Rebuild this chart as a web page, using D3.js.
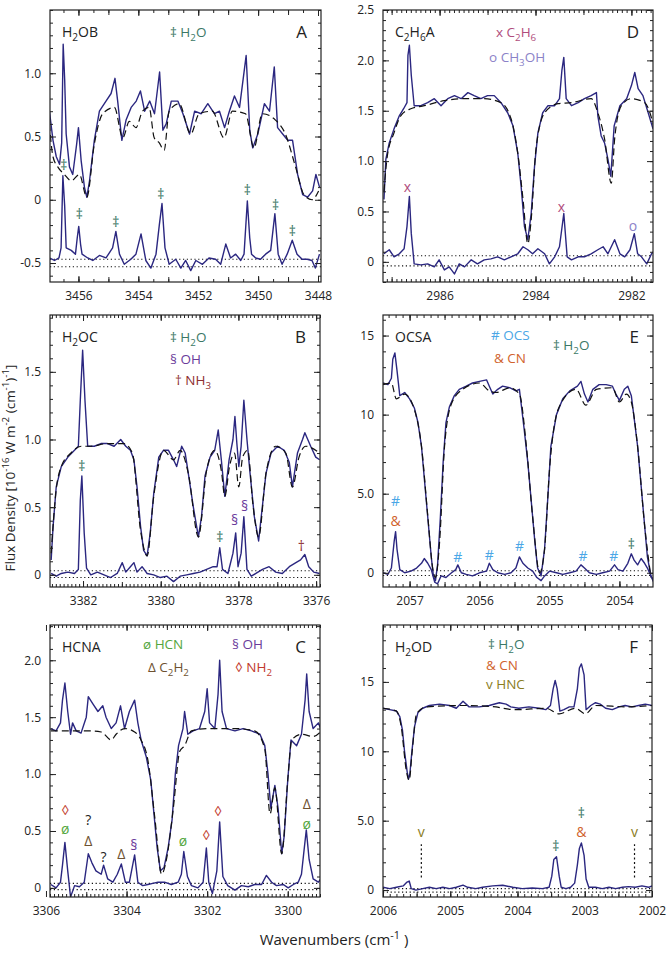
<!DOCTYPE html>
<html>
<head>
<meta charset="utf-8">
<script src="https://cdn.jsdelivr.net/npm/d3@7"></script>
<style>
  body { margin: 0; background: #fff; }
  svg { display: block; font-family: "Open Sans", "Noto Sans", sans-serif; }
  text { white-space: pre; }
</style>
</head>
<body>
<svg id="chart" width="666" height="956"></svg>
<script>
// ---------- panel A : H2OB ----------
const aName = "H_{2}OB";
const aLegend = [["‡ H_{2}O", "h2o"]];
const aYTicks = [-0.5, 0, 0.5, 1.0];
const aYLabels = ["-0.5", "0", "0.5", "1.0"];
const aXTicks = [3456, 3454, 3452, 3450, 3448];
const aObs = [[3456.97,0.70],[3456.85,0.47],[3456.74,0.34],[3456.63,0.28],[3456.56,0.45],[3456.51,1.23],[3456.46,0.95],[3456.41,0.52],[3456.30,0.26],[3456.19,0.20],[3456.06,0.44],[3456.00,0.57],[3455.91,0.31],[3455.80,0.10],[3455.72,0.02],[3455.63,0.15],[3455.47,0.47],[3455.30,0.70],[3455.08,0.78],[3454.91,0.84],[3454.78,0.96],[3454.69,0.78],[3454.55,0.47],[3454.41,0.63],[3454.24,0.73],[3454.07,0.78],[3453.93,0.86],[3453.79,0.70],[3453.62,0.78],[3453.46,0.68],[3453.29,1.01],[3453.18,0.55],[3453.07,0.60],[3452.90,0.78],[3452.68,0.78],[3452.51,0.68],[3452.29,0.52],[3452.12,0.70],[3451.90,0.68],[3451.68,0.76],[3451.46,0.68],[3451.29,0.70],[3451.12,0.57],[3450.96,0.70],[3450.79,0.82],[3450.62,0.73],[3450.40,1.14],[3450.28,0.55],[3450.18,0.41],[3450.01,0.52],[3449.79,0.76],[3449.62,0.70],[3449.46,1.05],[3449.35,0.57],[3449.18,0.52],[3449.01,0.47],[3448.85,0.47],[3448.68,0.20],[3448.51,0.04],[3448.35,0.02],[3448.18,0.07],[3448.07,0.20],[3447.95,0.10]];
const aModel = [[3456.97,0.60],[3456.85,0.34],[3456.69,0.26],[3456.47,0.20],[3456.24,0.15],[3455.97,0.20],[3455.72,0.02],[3455.47,0.44],[3455.19,0.68],[3454.80,0.73],[3454.52,0.49],[3454.30,0.62],[3454.08,0.57],[3453.86,0.70],[3453.64,0.73],[3453.47,0.49],[3453.30,0.45],[3453.14,0.39],[3452.97,0.70],[3452.64,0.76],[3452.25,0.52],[3451.97,0.68],[3451.53,0.70],[3451.14,0.49],[3450.86,0.70],[3450.42,0.68],[3450.14,0.41],[3449.86,0.68],[3449.42,0.63],[3449.09,0.52],[3448.75,0.26],[3448.47,0.04],[3448.20,0.00],[3447.98,0.07]];
const aResid = [[3456.97,-0.46],[3456.80,-0.48],[3456.65,-0.46],[3456.58,-0.38],[3456.52,0.19],[3456.46,-0.05],[3456.41,-0.38],[3456.24,-0.40],[3456.10,-0.43],[3456.04,-0.30],[3455.99,-0.21],[3455.93,-0.35],[3455.88,-0.43],[3455.69,-0.46],[3455.52,-0.48],[3455.30,-0.44],[3455.08,-0.46],[3454.86,-0.38],[3454.75,-0.25],[3454.63,-0.43],[3454.47,-0.51],[3454.25,-0.47],[3454.08,-0.43],[3453.91,-0.27],[3453.75,-0.48],[3453.58,-0.54],[3453.41,-0.43],[3453.30,-0.20],[3453.21,-0.03],[3453.11,-0.38],[3452.97,-0.51],[3452.75,-0.47],[3452.58,-0.54],[3452.42,-0.48],[3452.25,-0.56],[3452.08,-0.48],[3451.86,-0.51],[3451.64,-0.46],[3451.42,-0.47],[3451.25,-0.51],[3451.08,-0.35],[3450.92,-0.46],[3450.75,-0.43],[3450.58,-0.48],[3450.47,-0.43],[3450.36,-0.01],[3450.28,-0.30],[3450.22,-0.43],[3450.08,-0.46],[3449.92,-0.47],[3449.75,-0.43],[3449.58,-0.40],[3449.44,-0.11],[3449.33,-0.43],[3449.20,-0.51],[3449.03,-0.43],[3448.86,-0.32],[3448.70,-0.43],[3448.53,-0.47],[3448.36,-0.47],[3448.20,-0.48],[3448.09,-0.54],[3447.95,-0.43]];
const aNoise = [-0.47, -0.53];
const aMarks = [["‡",3456.49,0.28,"h2o"],["‡",3455.97,-0.11,"h2o"],["‡",3454.75,-0.17,"h2o"],["‡",3453.25,0.05,"h2o"],["‡",3450.36,0.08,"h2o"],["‡",3449.42,-0.04,"h2o"],["‡",3448.86,-0.24,"h2o"]];

// ---------- panel D : C2H6A ----------
const dName = "C_{2}H_{6}A";
const dLegend = [["x C_{2}H_{6}", "c2h6"], ["o CH_{3}OH", "ch3oh"]];
const dYTicks = [0, 0.5, 1.0, 1.5, 2.0, 2.5];
const dYLabels = ["0", "0.5", "1.0", "1.5", "2.0", "2.5"];
const dXTicks = [2986, 2984, 2982];
const dObs = [[2987.16,0.62],[2987.12,1.02],[2987.05,1.18],[2986.95,1.32],[2986.84,1.45],[2986.75,1.52],[2986.68,1.58],[2986.66,2.05],[2986.63,2.15],[2986.59,1.85],[2986.53,1.55],[2986.39,1.55],[2986.25,1.58],[2986.11,1.62],[2985.97,1.55],[2985.83,1.62],[2985.69,1.65],[2985.55,1.62],[2985.41,1.68],[2985.28,1.65],[2985.14,1.62],[2985.00,1.65],[2984.86,1.65],[2984.72,1.58],[2984.58,1.48],[2984.47,1.35],[2984.37,1.08],[2984.30,0.75],[2984.23,0.35],[2984.16,0.22],[2984.09,0.48],[2984.02,0.95],[2983.95,1.28],[2983.85,1.48],[2983.74,1.55],[2983.60,1.55],[2983.50,1.62],[2983.45,1.90],[2983.41,2.03],[2983.36,1.62],[2983.25,1.55],[2983.11,1.58],[2982.98,1.62],[2982.84,1.65],[2982.73,1.68],[2982.70,1.45],[2982.63,1.25],[2982.56,1.18],[2982.49,1.02],[2982.43,0.85],[2982.36,1.35],[2982.24,1.55],[2982.10,1.62],[2982.00,1.75],[2981.93,1.88],[2981.86,1.72],[2981.76,1.65],[2981.65,1.48],[2981.55,1.32]];
const dModel = [[2987.16,0.70],[2987.09,1.05],[2986.95,1.28],[2986.81,1.45],[2986.60,1.52],[2986.32,1.55],[2985.90,1.60],[2985.48,1.62],[2985.07,1.62],[2984.72,1.58],[2984.51,1.42],[2984.37,1.08],[2984.26,0.62],[2984.16,0.18],[2984.09,0.42],[2983.99,1.12],[2983.81,1.48],[2983.53,1.57],[2983.25,1.58],[2982.84,1.62],[2982.70,1.48],[2982.56,1.22],[2982.42,0.78],[2982.35,1.22],[2982.21,1.55],[2982.00,1.62],[2981.72,1.58],[2981.51,1.30]];
const dResid = [[2987.16,0.08],[2987.05,0.12],[2986.95,0.05],[2986.84,0.08],[2986.74,0.13],[2986.68,0.35],[2986.63,0.65],[2986.59,0.28],[2986.53,-0.02],[2986.39,-0.03],[2986.25,-0.02],[2986.11,-0.05],[2986.01,0.02],[2985.90,-0.08],[2985.80,-0.05],[2985.69,-0.12],[2985.59,-0.02],[2985.48,-0.05],[2985.34,0.02],[2985.21,-0.02],[2985.07,0.02],[2984.93,0.03],[2984.79,0.05],[2984.65,0.02],[2984.51,0.05],[2984.37,0.08],[2984.26,0.15],[2984.16,0.12],[2984.06,0.08],[2983.95,0.13],[2983.81,0.08],[2983.71,-0.02],[2983.60,0.05],[2983.50,0.15],[2983.41,0.48],[2983.34,0.05],[2983.25,0.02],[2983.11,0.05],[2982.98,0.05],[2982.84,0.08],[2982.70,0.12],[2982.59,0.15],[2982.49,0.08],[2982.35,0.22],[2982.24,0.08],[2982.14,0.05],[2982.03,0.12],[2981.94,0.28],[2981.87,0.08],[2981.79,0.05],[2981.68,-0.02],[2981.58,0.08],[2981.50,0.12]];
const dNoise = [0.06, -0.04];
const dMarks = [["x",2986.67,0.75,"c2h6"],["x",2983.46,0.55,"c2h6"],["o",2981.97,0.36,"ch3oh"]];

// ---------- panel B : H2OC ----------
const bName = "H_{2}OC";
const bLegend = [["‡ H_{2}O", "h2o"], ["§ OH", "oh"], ["† NH_{3}", "nh3"]];
const bYTicks = [0, 0.5, 1.0, 1.5];
const bYLabels = ["0", "0.5", "1.0", "1.5"];
const bXTicks = [3382, 3380, 3378, 3376];
const bObs = [[3382.82,0.11],[3382.77,0.36],[3382.69,0.65],[3382.56,0.80],[3382.39,0.87],[3382.22,0.92],[3382.12,0.95],[3382.07,1.29],[3382.01,1.66],[3381.95,1.29],[3381.88,0.95],[3381.71,0.95],[3381.54,0.97],[3381.37,0.97],[3381.20,0.95],[3381.03,1.00],[3380.90,0.95],[3380.78,0.92],[3380.69,0.85],[3380.61,0.65],[3380.52,0.36],[3380.44,0.18],[3380.35,0.14],[3380.27,0.31],[3380.18,0.60],[3380.05,0.87],[3379.93,0.92],[3379.80,0.92],[3379.67,0.85],[3379.59,0.80],[3379.46,0.95],[3379.37,0.90],[3379.29,0.75],[3379.16,0.50],[3379.03,0.28],[3378.95,0.43],[3378.86,0.73],[3378.73,0.87],[3378.61,0.92],[3378.52,1.07],[3378.44,0.85],[3378.35,0.58],[3378.24,0.85],[3378.14,1.00],[3378.09,1.17],[3378.04,0.97],[3377.99,0.80],[3377.93,0.95],[3377.86,1.29],[3377.78,1.00],[3377.70,0.75],[3377.59,0.43],[3377.48,0.25],[3377.42,0.41],[3377.29,0.75],[3377.16,0.90],[3376.99,0.95],[3376.82,0.92],[3376.69,0.83],[3376.61,0.65],[3376.48,0.90],[3376.35,1.00],[3376.29,1.05],[3376.14,0.95],[3376.01,0.87],[3375.91,0.85]];
const bModel = [[3382.82,0.16],[3382.69,0.63],[3382.56,0.80],[3382.31,0.90],[3382.05,0.95],[3381.80,0.95],[3381.37,0.97],[3380.95,0.97],[3380.73,0.90],[3380.52,0.33],[3380.35,0.14],[3380.18,0.58],[3379.93,0.92],[3379.67,0.85],[3379.50,0.92],[3379.29,0.75],[3379.03,0.28],[3378.82,0.77],[3378.61,0.92],[3378.44,0.77],[3378.35,0.58],[3378.23,0.80],[3378.10,0.90],[3377.99,0.65],[3377.89,0.87],[3377.76,0.92],[3377.63,0.53],[3377.48,0.28],[3377.29,0.75],[3377.04,0.95],[3376.78,0.90],[3376.61,0.65],[3376.44,0.87],[3376.27,0.95],[3375.91,0.90]];
const bResid = [[3382.82,0.01],[3382.69,-0.01],[3382.56,0.01],[3382.39,0.02],[3382.22,0.01],[3382.12,0.04],[3382.07,0.55],[3382.03,0.73],[3381.97,0.31],[3381.91,0.05],[3381.80,0.00],[3381.63,0.02],[3381.46,0.00],[3381.29,-0.02],[3381.12,0.01],[3380.99,0.09],[3380.90,0.02],[3380.78,0.06],[3380.69,0.09],[3380.61,0.02],[3380.48,0.06],[3380.35,0.01],[3380.18,0.00],[3380.01,-0.02],[3379.84,-0.01],[3379.67,-0.05],[3379.50,-0.01],[3379.33,0.00],[3379.16,0.01],[3378.99,0.02],[3378.82,0.04],[3378.65,0.06],[3378.55,0.06],[3378.48,0.20],[3378.41,0.04],[3378.27,0.01],[3378.14,0.16],[3378.07,0.31],[3378.01,0.06],[3377.93,0.16],[3377.86,0.43],[3377.78,0.04],[3377.67,-0.01],[3377.55,0.01],[3377.38,0.04],[3377.21,0.06],[3377.04,0.02],[3376.87,0.01],[3376.69,0.06],[3376.52,0.09],[3376.40,0.11],[3376.29,0.15],[3376.19,0.06],[3376.06,0.02],[3375.91,0.01]];
const bNoise = [0.03, -0.02];
const bMarks = [["‡",3382.03,0.81,"h2o"],["‡",3378.48,0.28,"h2o"],["§",3378.10,0.41,"oh"],["§",3377.84,0.51,"oh"],["†",3376.38,0.22,"nh3"]];

// ---------- panel E : OCSA ----------
const eName = "OCSA";
const eLegend = [["# OCS", "ocs"], ["& CN", "cn"], ["‡ H_{2}O", "h2o"]];
const eYTicks = [0, 5, 10, 15];
const eYLabels = ["0", "5.0", "10", "15"];
const eXTicks = [2057, 2056, 2055, 2054];
const eObs = [[2057.38,12.0],[2057.31,11.9],[2057.26,12.3],[2057.24,13.5],[2057.21,13.9],[2057.18,12.8],[2057.14,11.2],[2057.07,11.4],[2057.00,11.0],[2056.93,10.4],[2056.88,9.5],[2056.83,8.0],[2056.79,6.0],[2056.74,3.5],[2056.69,1.0],[2056.66,-0.2],[2056.63,-0.5],[2056.60,0.5],[2056.56,3.5],[2056.52,7.0],[2056.48,9.5],[2056.43,10.5],[2056.36,11.2],[2056.29,11.6],[2056.19,11.8],[2056.10,12.0],[2056.00,12.1],[2055.90,12.2],[2055.86,11.8],[2055.81,11.3],[2055.74,11.6],[2055.67,11.8],[2055.57,11.7],[2055.48,11.5],[2055.43,11.6],[2055.40,10.5],[2055.36,9.0],[2055.31,7.0],[2055.26,4.5],[2055.21,2.0],[2055.17,0.3],[2055.12,-0.2],[2055.07,1.5],[2055.02,5.0],[2054.98,8.0],[2054.90,10.0],[2054.81,11.0],[2054.71,11.5],[2054.60,11.8],[2054.55,12.1],[2054.50,11.3],[2054.45,10.8],[2054.38,11.6],[2054.29,11.9],[2054.19,11.9],[2054.10,11.8],[2054.05,11.3],[2054.00,10.9],[2053.93,11.6],[2053.88,11.8],[2053.83,11.2],[2053.79,9.8],[2053.74,8.0],[2053.69,5.5],[2053.64,3.0],[2053.60,1.0],[2053.55,-0.2],[2053.51,-0.5]];
const eModel = [[2057.38,11.9],[2057.26,12.0],[2057.19,11.0],[2057.07,11.3],[2056.93,10.3],[2056.83,8.0],[2056.74,3.6],[2056.67,0.3],[2056.63,-0.3],[2056.57,2.0],[2056.50,8.0],[2056.40,10.7],[2056.24,11.6],[2056.00,12.0],[2055.86,11.5],[2055.76,11.4],[2055.57,11.7],[2055.43,11.3],[2055.33,8.0],[2055.24,3.5],[2055.14,0.0],[2055.07,1.5],[2055.00,6.5],[2054.86,10.5],[2054.62,11.6],[2054.48,10.6],[2054.33,11.6],[2054.10,11.7],[2054.00,10.8],[2053.90,11.3],[2053.83,10.8],[2053.74,8.0],[2053.64,3.0],[2053.55,-0.3]];
const eResid = [[2057.38,0.0],[2057.31,-0.1],[2057.26,0.3],[2057.22,2.0],[2057.20,2.6],[2057.18,1.5],[2057.14,0.2],[2057.07,0.0],[2056.98,0.1],[2056.90,0.3],[2056.83,0.6],[2056.79,0.9],[2056.74,0.6],[2056.69,0.2],[2056.64,-0.6],[2056.60,-0.7],[2056.55,-0.2],[2056.48,-0.3],[2056.40,0.0],[2056.34,0.2],[2056.31,0.5],[2056.26,0.0],[2056.19,-0.1],[2056.10,-0.2],[2056.00,0.0],[2055.90,0.1],[2055.86,0.6],[2055.81,0.2],[2055.74,0.0],[2055.64,-0.1],[2055.55,0.0],[2055.48,0.3],[2055.43,1.0],[2055.38,0.6],[2055.31,0.3],[2055.24,0.1],[2055.18,-0.3],[2055.12,-0.5],[2055.07,-0.2],[2055.00,0.1],[2054.90,0.0],[2054.81,-0.1],[2054.71,0.0],[2054.62,0.1],[2054.55,0.5],[2054.50,0.3],[2054.43,0.0],[2054.33,-0.1],[2054.24,0.0],[2054.14,0.1],[2054.07,0.5],[2054.02,0.2],[2053.95,0.1],[2053.88,0.6],[2053.83,1.2],[2053.79,0.8],[2053.74,0.5],[2053.69,0.9],[2053.64,0.6],[2053.60,0.3],[2053.55,-0.2],[2053.51,-0.6]];
const eNoise = [0.13, -0.17];
const eMarks = [["#",2057.20,4.6,"ocs"],["&",2057.20,3.3,"cn"],["#",2056.31,1.05,"ocs"],["#",2055.86,1.15,"ocs"],["#",2055.43,1.7,"ocs"],["#",2054.52,1.1,"ocs"],["#",2054.08,1.1,"ocs"],["‡",2053.83,1.85,"h2o"]];

// ---------- panel C : HCNA ----------
const cName = "HCNA";
const cLegend = [["ø HCN", "hcn"], ["Δ C_{2}H_{2}", "c2h2"], ["§ OH", "oh"], ["◊ NH_{2}", "nh2"]];
const cYTicks = [0, 0.5, 1.0, 1.5, 2.0];
const cYLabels = ["0", "0.5", "1.0", "1.5", "2.0"];
const cXTicks = [3306, 3304, 3302, 3300];
const cObs = [[3305.88,1.40],[3305.75,1.38],[3305.64,1.45],[3305.59,1.65],[3305.53,1.80],[3305.46,1.55],[3305.39,1.35],[3305.34,1.45],[3305.25,1.38],[3305.13,1.36],[3305.00,1.50],[3304.95,1.68],[3304.84,1.62],[3304.71,1.55],[3304.59,1.60],[3304.51,1.50],[3304.38,1.40],[3304.26,1.45],[3304.15,1.60],[3304.05,1.40],[3303.93,1.55],[3303.80,1.65],[3303.72,1.45],[3303.64,1.30],[3303.51,1.15],[3303.40,0.95],[3303.32,0.65],[3303.24,0.35],[3303.16,0.15],[3303.07,0.18],[3302.97,0.35],[3302.87,0.60],[3302.79,1.00],[3302.71,1.25],[3302.60,1.40],[3302.56,1.55],[3302.48,1.35],[3302.35,1.38],[3302.19,1.40],[3302.06,1.55],[3302.00,1.75],[3301.94,1.45],[3301.81,1.40],[3301.73,1.70],[3301.69,2.00],[3301.63,1.55],[3301.52,1.40],[3301.31,1.38],[3301.11,1.40],[3300.90,1.38],[3300.69,1.35],[3300.57,1.25],[3300.49,1.00],[3300.42,0.70],[3300.32,0.90],[3300.24,0.70],[3300.15,0.30],[3300.09,0.45],[3300.00,0.95],[3299.92,1.30],[3299.78,1.25],[3299.66,1.35],[3299.57,1.65],[3299.53,1.88],[3299.47,1.55],[3299.37,1.40],[3299.24,1.45],[3299.16,1.38]];
const cModel = [[3305.88,1.38],[3305.46,1.38],[3304.96,1.38],[3304.63,1.37],[3304.38,1.30],[3304.26,1.35],[3304.05,1.40],[3303.80,1.37],[3303.64,1.30],[3303.47,1.12],[3303.30,0.62],[3303.13,0.12],[3303.01,0.25],[3302.84,0.70],[3302.68,1.20],[3302.56,1.25],[3302.39,1.38],[3301.98,1.40],[3301.31,1.40],[3300.82,1.38],[3300.57,1.22],[3300.44,0.65],[3300.32,0.88],[3300.15,0.30],[3300.00,0.95],[3299.90,1.30],[3299.66,1.35],[3299.37,1.33],[3299.16,1.38]];
const cResid = [[3305.88,0.03],[3305.75,0.00],[3305.64,0.05],[3305.59,0.20],[3305.53,0.40],[3305.46,0.15],[3305.39,-0.08],[3305.29,0.02],[3305.17,0.01],[3305.05,0.05],[3304.95,0.30],[3304.86,0.22],[3304.76,0.15],[3304.63,0.12],[3304.57,0.20],[3304.47,0.08],[3304.34,0.05],[3304.23,0.12],[3304.13,0.21],[3304.03,0.05],[3303.93,0.05],[3303.80,0.29],[3303.72,0.05],[3303.60,0.02],[3303.47,0.03],[3303.35,0.04],[3303.22,0.05],[3303.06,0.05],[3302.89,0.03],[3302.72,0.05],[3302.64,0.12],[3302.58,0.32],[3302.49,0.10],[3302.39,0.02],[3302.23,0.00],[3302.10,0.05],[3302.02,0.35],[3301.96,0.05],[3301.87,-0.05],[3301.76,0.15],[3301.69,0.58],[3301.61,0.10],[3301.49,0.02],[3301.31,-0.02],[3301.15,0.02],[3300.98,0.01],[3300.82,0.03],[3300.65,0.03],[3300.53,0.11],[3300.40,0.05],[3300.28,0.02],[3300.11,0.03],[3299.99,0.00],[3299.86,0.03],[3299.74,0.05],[3299.66,0.12],[3299.59,0.35],[3299.54,0.51],[3299.47,0.25],[3299.37,0.08],[3299.24,0.05],[3299.14,0.10]];
const cNoise = [0.04, -0.015];
const cMarks = [["◊",3305.52,0.69,"nh2"],["ø",3305.52,0.52,"hcn"],["?",3304.95,0.60,"unk"],["Δ",3304.95,0.42,"c2h2"],["?",3304.57,0.28,"unk"],["Δ",3304.13,0.30,"c2h2"],["§",3303.82,0.38,"oh"],["ø",3302.60,0.42,"hcn"],["◊",3302.02,0.47,"nh2"],["◊",3301.73,0.68,"nh2"],["Δ",3299.53,0.74,"c2h2"],["ø",3299.53,0.57,"hcn"]];

// ---------- panel F : H2OD ----------
const fName = "H_{2}OD";
const fLegend = [["‡ H_{2}O", "h2o"], ["& CN", "cn"], ["v HNC", "hnc"]];
const fYTicks = [0, 5, 10, 15];
const fYLabels = ["0", "5.0", "10", "15"];
const fXTicks = [2006, 2005, 2004, 2003, 2002];
const fObs = [[2006.00,13.1],[2005.90,13.0],[2005.80,12.9],[2005.75,12.5],[2005.71,11.5],[2005.68,10.0],[2005.64,8.5],[2005.62,8.0],[2005.60,8.4],[2005.57,10.0],[2005.53,11.8],[2005.48,12.8],[2005.41,13.1],[2005.31,13.3],[2005.16,13.4],[2005.01,13.3],[2004.91,13.1],[2004.81,13.6],[2004.72,13.2],[2004.57,13.2],[2004.42,13.3],[2004.27,13.5],[2004.17,13.4],[2004.10,13.2],[2003.98,13.1],[2003.83,13.2],[2003.68,13.1],[2003.58,13.0],[2003.51,13.3],[2003.47,14.5],[2003.44,15.1],[2003.41,14.5],[2003.37,12.9],[2003.31,13.0],[2003.23,13.2],[2003.16,13.2],[2003.11,14.5],[2003.08,16.0],[2003.05,16.3],[2003.01,15.5],[2002.98,13.0],[2002.91,13.3],[2002.84,13.5],[2002.77,13.4],[2002.69,13.1],[2002.59,13.0],[2002.49,13.2],[2002.40,13.3],[2002.30,13.2],[2002.20,13.3],[2002.10,13.4],[2002.00,13.3]];
const fModel = [[2006.00,13.1],[2005.80,12.9],[2005.73,11.8],[2005.65,8.5],[2005.61,7.9],[2005.57,9.8],[2005.50,12.7],[2005.36,13.2],[2004.81,13.3],[2004.32,13.2],[2004.22,13.1],[2004.02,13.0],[2003.58,13.1],[2003.38,12.7],[2003.14,13.1],[2002.99,12.7],[2002.84,13.3],[2002.35,13.2],[2002.00,13.3]];
const fResid = [[2006.00,0.2],[2005.90,0.1],[2005.80,0.2],[2005.70,0.3],[2005.65,0.55],[2005.61,0.65],[2005.58,0.1],[2005.51,0.0],[2005.41,0.1],[2005.31,0.2],[2005.21,0.1],[2005.11,0.2],[2005.01,0.1],[2004.91,0.2],[2004.81,0.35],[2004.74,0.2],[2004.62,0.1],[2004.52,0.2],[2004.37,0.3],[2004.22,0.35],[2004.07,0.2],[2003.93,0.1],[2003.78,0.15],[2003.63,0.1],[2003.53,0.2],[2003.49,1.0],[2003.46,2.2],[2003.42,2.4],[2003.38,1.0],[2003.35,0.2],[2003.28,0.1],[2003.21,0.2],[2003.15,0.5],[2003.11,1.8],[2003.08,3.0],[2003.05,3.4],[2003.01,2.5],[2002.98,0.8],[2002.94,0.2],[2002.84,0.2],[2002.74,0.1],[2002.64,0.2],[2002.54,0.1],[2002.44,0.2],[2002.35,0.25],[2002.25,0.2],[2002.15,0.3],[2002.05,0.2],[2002.00,0.3]];
const fNoise = [0.1, -0.15];
const fMarks = [["v",2005.43,4.2,"hnc"],["‡",2003.43,3.2,"h2o"],["‡",2003.05,5.6,"h2o"],["&",2003.05,4.25,"cn"],["v",2002.26,4.2,"hnc"]];
const fGuides = [[2005.43, 0.9, 3.3], [2002.26, 0.9, 3.3]];

// ---------- styling ----------
const speciesColor = {
  h2o: "#3b7866", c2h6: "#b04c7c", ch3oh: "#8b82c8", oh: "#6a3b9b", nh3: "#8e2f2f",
  ocs: "#4aa6e6", cn: "#d0622c", hcn: "#53a63d", c2h2: "#6e5130", nh2: "#c23a2c",
  hnc: "#8a7c1d", unk: "#222"
};
const specColor = "#2b2780";

const panels = [
  {letter: "A", left: 50, top: 10, right: 321, bottom: 282, xDom: [3456.95, 3447.9], yDom: [-0.65, 1.5],
   obs: aObs, model: aModel, resid: aResid, noise: aNoise, marks: aMarks, name: aName, legend: aLegend,
   yTicks: aYTicks, yLabels: aYLabels, xTicks: aXTicks, xMinor: 0.5, xMid: 1, yMinor: 0.1,
   legendPos: [[120, 27]]},
  {letter: "D", left: 383, top: 10, right: 653, bottom: 282, xDom: [2987.18, 2981.55], yDom: [-0.2, 2.5],
   obs: dObs, model: dModel, resid: dResid, noise: dNoise, marks: dMarks, name: dName, legend: dLegend,
   yTicks: dYTicks, yLabels: dYLabels, xTicks: dXTicks, xMinor: 0.1, xMid: 1, yMinor: 0.1,
   legendPos: [[113, 27], [106, 52]]},
  {letter: "B", left: 50, top: 315, right: 320, bottom: 587, xDom: [3382.85, 3375.9], yDom: [-0.09, 1.92],
   obs: bObs, model: bModel, resid: bResid, noise: bNoise, marks: bMarks, name: bName, legend: bLegend,
   yTicks: bYTicks, yLabels: bYLabels, xTicks: bXTicks, xMinor: 0.1, xMid: 1, yMinor: 0.1,
   legendPos: [[120, 27], [120, 48.5], [125, 70]]},
  {letter: "E", left: 383, top: 315, right: 653, bottom: 587, xDom: [2057.38, 2053.52], yDom: [-0.9, 16.3],
   obs: eObs, model: eModel, resid: eResid, noise: eNoise, marks: eMarks, name: eName, legend: eLegend,
   yTicks: eYTicks, yLabels: eYLabels, xTicks: eXTicks, xMinor: 0.1, xMid: 0.5, yMinor: 1,
   legendPos: [[108, 25], [111, 48], [170, 35]]},
  {letter: "C", left: 50, top: 625, right: 320, bottom: 897, xDom: [3305.9, 3299.2], yDom: [-0.08, 2.31],
   obs: cObs, model: cModel, resid: cResid, noise: cNoise, marks: cMarks, name: cName, legend: cLegend,
   yTicks: cYTicks, yLabels: cYLabels, xTicks: cXTicks, xMinor: 0.1, xMid: 1, yMinor: 0.1,
   legendPos: [[93, 23.5], [98, 47], [182, 23.5], [185, 47]]},
  {letter: "F", left: 383, top: 625, right: 652, bottom: 897, xDom: [2006, 2002], yDom: [-0.5, 19.1],
   obs: fObs, model: fModel, resid: fResid, noise: fNoise, marks: fMarks, name: fName, legend: fLegend,
   yTicks: fYTicks, yLabels: fYLabels, xTicks: fXTicks, xMinor: 0.1, xMid: 0.5, yMinor: 1,
   guides: fGuides, legendPos: [[105, 24], [103, 45], [103, 64]]}
];

const svg = d3.select("#chart");

// text with _{sub} and ^{sup} pieces
function rich(t, str, fs) {
  const re = /([_^])\{([^}]*)\}/g;
  let cur = 0, last = 0, m;
  const add = (s, off, size) => {
    t.append("tspan").attr("dy", off - cur).attr("font-size", size).text(s);
    cur = off;
  };
  while ((m = re.exec(str)) !== null) {
    if (m.index > last) add(str.slice(last, m.index), 0, fs);
    add(m[2], m[1] === "_" ? fs * 0.3 : -fs * 0.42, fs * 0.72);
    last = re.lastIndex;
  }
  if (last < str.length) add(str.slice(last), 0, fs);
}

function stepsIn(dom, step) {
  const lo = Math.min(...dom), hi = Math.max(...dom);
  return d3.range(Math.ceil(lo / step - 1e-6), Math.floor(hi / step + 1e-6) + 1)
    .map(k => +(k * step).toFixed(4));
}

function drawPanel(p) {
  const x = d3.scaleLinear().domain(p.xDom).range([p.left, p.right]);
  const y = d3.scaleLinear().domain(p.yDom).range([p.bottom, p.top]);
  const g = svg.append("g");

  const clipId = "clip" + p.letter;
  svg.append("clipPath").attr("id", clipId).append("rect")
    .attr("x", p.left).attr("y", p.top).attr("width", p.right - p.left).attr("height", p.bottom - p.top);
  const plot = g.append("g").attr("clip-path", `url(#${clipId})`);

  p.noise.forEach(v => {
    plot.append("line").attr("x1", p.left).attr("x2", p.right).attr("y1", y(v)).attr("y2", y(v))
      .attr("stroke", "#111").attr("stroke-width", 1.1).attr("stroke-dasharray", "1.2,2.6");
  });

  (p.guides || []).forEach(d => {
    plot.append("line").attr("x1", x(d[0])).attr("x2", x(d[0])).attr("y1", y(d[1])).attr("y2", y(d[2]))
      .attr("stroke", "#111").attr("stroke-width", 1.2).attr("stroke-dasharray", "2,2.5");
  });

  const specLine = d3.line().x(d => x(d[0])).y(d => y(d[1]));
  const smoothLine = d3.line().x(d => x(d[0])).y(d => y(d[1])).curve(d3.curveMonotoneX);

  plot.append("path").datum(p.obs).attr("d", specLine)
    .attr("fill", "none").attr("stroke", specColor).attr("stroke-width", 1.4).attr("stroke-linejoin", "round");
  plot.append("path").datum(p.model).attr("d", smoothLine)
    .attr("fill", "none").attr("stroke", "#111").attr("stroke-width", 1.2).attr("stroke-dasharray", "7,4");
  plot.append("path").datum(p.resid).attr("d", specLine)
    .attr("fill", "none").attr("stroke", specColor).attr("stroke-width", 1.4).attr("stroke-linejoin", "round");

  // frame
  g.append("rect").attr("x", p.left).attr("y", p.top)
    .attr("width", p.right - p.left).attr("height", p.bottom - p.top)
    .attr("fill", "none").attr("stroke", "#222").attr("stroke-width", 1.2);

  // ticks on all four sides, pointing inward
  const tickSets = [
    {vals: stepsIn(p.xDom, p.xMinor), len: 3},
    {vals: stepsIn(p.xDom, p.xMid), len: 5},
    {vals: p.xTicks, len: 6}
  ];
  tickSets.forEach(ts => {
    g.append("g").attr("transform", `translate(0,${p.bottom})`)
      .call(d3.axisBottom(x).tickValues(ts.vals).tickSize(-ts.len).tickFormat(""))
      .call(s => s.select(".domain").remove());
    g.append("g").attr("transform", `translate(0,${p.top})`)
      .call(d3.axisTop(x).tickValues(ts.vals).tickSize(-ts.len).tickFormat(""))
      .call(s => s.select(".domain").remove());
  });
  const yTickSets = [
    {vals: stepsIn(p.yDom, p.yMinor), len: 3},
    {vals: p.yTicks, len: 6}
  ];
  yTickSets.forEach(ts => {
    g.append("g").attr("transform", `translate(${p.left},0)`)
      .call(d3.axisLeft(y).tickValues(ts.vals).tickSize(-ts.len).tickFormat(""))
      .call(s => s.select(".domain").remove());
    g.append("g").attr("transform", `translate(${p.right},0)`)
      .call(d3.axisRight(y).tickValues(ts.vals).tickSize(-ts.len).tickFormat(""))
      .call(s => s.select(".domain").remove());
  });

  // tick labels
  g.append("g").attr("transform", `translate(0,${p.bottom})`)
    .call(d3.axisBottom(x).tickValues(p.xTicks).tickSize(0).tickPadding(9).tickFormat(d => String(d)))
    .call(s => s.select(".domain").remove())
    .call(s => s.selectAll("text").attr("font-family", "Open Sans, sans-serif").attr("font-size", 12).attr("fill", "#222"));
  g.append("g").attr("transform", `translate(${p.left},0)`)
    .call(d3.axisLeft(y).tickValues(p.yTicks).tickSize(0).tickPadding(9)
      .tickFormat(d => p.yLabels[p.yTicks.indexOf(d)]))
    .call(s => s.select(".domain").remove())
    .call(s => s.selectAll("text").attr("font-family", "Open Sans, sans-serif").attr("font-size", 12).attr("fill", "#222"));
  g.selectAll(".tick line").attr("stroke", "#222");

  // panel name, legend and letter
  rich(g.append("text").attr("x", p.left + 12).attr("y", p.top + 27).attr("fill", "#222"), p.name, 14);
  p.legend.forEach((d, i) => {
    const pos = p.legendPos[i];
    rich(g.append("text").attr("x", p.left + pos[0]).attr("y", p.top + pos[1])
      .attr("fill", speciesColor[d[1]]), d[0], 13.5);
  });
  g.append("text").attr("x", p.right - 14).attr("y", p.top + 28).attr("text-anchor", "end")
    .attr("font-size", 17).attr("fill", "#222").text(p.letter);

  // line markers
  g.selectAll(null).data(p.marks).join("text")
    .attr("x", d => x(d[1])).attr("y", d => y(d[2]))
    .attr("text-anchor", "middle").attr("dominant-baseline", "central")
    .attr("font-size", 14).attr("fill", d => speciesColor[d[3]])
    .text(d => d[0]);
}

panels.forEach(drawPanel);

// axis titles
rich(svg.append("text").attr("transform", "translate(15,468) rotate(-90)")
  .attr("text-anchor", "middle").attr("fill", "#222"),
  "Flux Density [10^{-16} W m^{-2} (cm^{-1})^{-1}]", 13.5);
rich(svg.append("text").attr("x", 334).attr("y", 945).attr("text-anchor", "middle").attr("fill", "#222"),
  "Wavenumbers (cm^{-1} )", 15);
</script>
</body>
</html>
